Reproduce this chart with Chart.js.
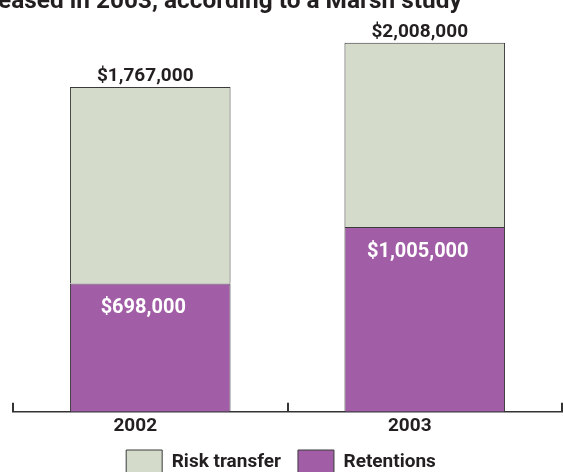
<!DOCTYPE html>
<html>
<head>
<meta charset="utf-8">
<script src="https://cdn.jsdelivr.net/npm/chart.js@4"></script>
<style>
  html, body { margin: 0; padding: 0; background: #fff; overflow: hidden; }
  #wrap { position: relative; width: 563px; height: 484px; }
  #title {
    position: absolute; left: -2px; top: -15px;
    font: bold 24.4px Roboto, sans-serif; color: #231f20; white-space: nowrap;
  }
</style>
</head>
<body>
<div id="wrap">
  <canvas id="myChart"></canvas>
  <div id="title">eased in 2003, according to a Marsh study</div>
</div>
<script>
let years = ['2002', '2003'];
let retentions = [698000, 1005000];
let riskTransfer = [1069000, 1003000];

let fontFamily = 'Roboto, sans-serif';
let textColor = '#231f20';

function money(v) {
  return '$' + v.toLocaleString('en-US');
}

// ticks pointing up from the x axis, at the category edges
let axisTicks = {
  id: 'axisTicks',
  afterDraw(chart) {
    let ctx = chart.ctx;
    let x = chart.scales.x;
    let bottom = chart.chartArea.bottom;
    let half = (x.getPixelForValue(1) - x.getPixelForValue(0)) / 2;
    let spots = [x.getPixelForValue(0) - half];
    years.forEach((y, i) => spots.push(x.getPixelForValue(i) + half));
    ctx.save();
    ctx.strokeStyle = '#333';
    ctx.lineWidth = 2;
    spots.forEach(px => {
      let p = Math.min(Math.round(px), chart.width - 1);
      ctx.beginPath();
      ctx.moveTo(p, bottom);
      ctx.lineTo(p, bottom - 9);
      ctx.stroke();
    });
    ctx.restore();
  }
};

// value labels: totals above bars, retentions inside purple part
let valueLabels = {
  id: 'valueLabels',
  afterDatasetsDraw(chart) {
    let ctx = chart.ctx;
    let retMeta = chart.getDatasetMeta(0);
    let riskMeta = chart.getDatasetMeta(1);
    ctx.save();
    ctx.textAlign = 'center';
    years.forEach((y, i) => {
      let top = riskMeta.data[i];
      ctx.font = 'bold 19px ' + fontFamily;
      ctx.fillStyle = textColor;
      ctx.textBaseline = 'alphabetic';
      ctx.fillText(money(retentions[i] + riskTransfer[i]), top.x - 5, top.y - 6);
      let ret = retMeta.data[i];
      ctx.font = 'bold 20px ' + fontFamily;
      ctx.fillStyle = '#ffffff';
      ctx.textBaseline = 'middle';
      ctx.fillText(money(retentions[i]), ret.x - 7, ret.y + 25);
    });
    ctx.restore();
  }
};

new Chart('myChart', {
  type: 'bar',
  data: {
    labels: years,
    datasets: [
      {
        label: 'Retentions',
        data: retentions,
        backgroundColor: '#a15ea6',
        borderColor: '#3a3a3a',
        borderWidth: 1
      },
      {
        label: 'Risk transfer',
        data: riskTransfer,
        backgroundColor: '#d5dbca',
        borderColor: '#3a3a3a',
        borderWidth: 1
      }
    ]
  },
  options: {
    responsive: true,
    maintainAspectRatio: false,
    animation: false,
    layout: { padding: { left: 0, right: 1, top: 0, bottom: 0 } },
    barPercentage: 0.585,
    categoryPercentage: 1,
    scales: {
      x: {
        stacked: true,
        grid: { display: false },
        border: { display: true, color: '#333', width: 1.5 },
        ticks: {
          color: textColor,
          font: { family: fontFamily, size: 19, weight: 'bold', lineHeight: 0.8 },
          padding: -1,
          labelOffset: -15
        }
      },
      y: {
        stacked: true,
        display: true,
        min: 0,
        max: 2240000,
        grid: { display: false },
        border: { display: false },
        ticks: { display: false },
        afterFit: scale => { scale.width = 13; }
      }
    },
    plugins: {
      legend: {
        position: 'bottom',
        reverse: true,
        labels: {
          boxWidth: 36,
          boxHeight: 24,
          color: textColor,
          font: { family: fontFamily, size: 19, weight: 'bold' },
          padding: 17
        }
      },
      tooltip: { enabled: false }
    }
  },
  plugins: [axisTicks, valueLabels]
});
</script>
</body>
</html>
